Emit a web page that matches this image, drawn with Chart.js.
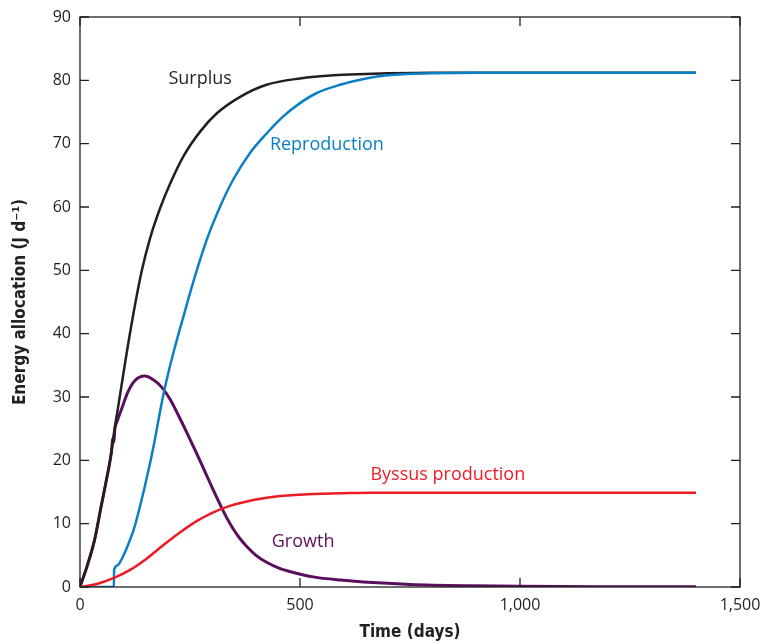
<!DOCTYPE html>
<html lang="en">
<head>
    <meta charset="UTF-8">
    <title>Energy allocation</title>
    <script src="https://cdn.jsdelivr.net/npm/chart.js"></script>
    <style>
        body { margin: 0; background: #fff; }
        #wrap { width: 761px; height: 643px; }
    </style>
</head>
<body>
    <div id="wrap"><canvas id="energyChart"></canvas></div>

    <script>
        // values (time in days, energy in J d-1)
        const surplusDays = [0, 18, 33, 48, 60, 71, 77, 88, 106, 121, 140, 159, 182, 205, 235, 273, 311, 364, 424, 500, 576, 650, 700, 800, 1000, 1200, 1400];
        const surplus = [0, 3.7, 7.4, 12.7, 16.9, 21.1, 24.2, 29.0, 36.9, 43.0, 49.8, 55.0, 59.8, 63.7, 68.0, 71.9, 74.8, 77.4, 79.3, 80.3, 80.8, 81.0, 81.1, 81.2, 81.2, 81.2, 81.2];

        const reproDays = [0, 77, 77.5, 85, 94, 110, 124, 147, 160, 170, 180, 189, 200, 212, 235, 258, 288, 318, 348, 386, 424, 462, 500, 538, 591, 650, 700, 800, 900, 1000, 1200, 1400];
        const reproduction = [0, 0, 2.7, 3.4, 4.3, 6.8, 9.5, 15.8, 19.8, 23.2, 27.0, 30.2, 33.6, 36.9, 42.7, 48.3, 54.8, 60.0, 64.3, 68.5, 71.6, 74.3, 76.4, 78.0, 79.3, 80.3, 80.8, 81.1, 81.2, 81.2, 81.2, 81.2];

        const byssusDays = [0, 38, 76, 114, 152, 189, 227, 265, 303, 341, 379, 417, 455, 530, 591, 666, 800, 1000, 1200, 1400];
        const byssus = [0, 0.47, 1.4, 2.7, 4.5, 6.6, 8.6, 10.4, 11.8, 12.8, 13.5, 14.0, 14.35, 14.7, 14.8, 14.9, 14.9, 14.9, 14.9, 14.9];

        const growthDays = [0, 18, 33, 48, 60, 71, 75, 77, 79, 85, 95, 109, 125, 147, 165, 185, 205, 223, 242, 261, 275, 288, 303, 318, 333, 348, 363, 379, 400, 424, 455, 485, 530, 591, 666, 750, 893, 1000, 1200, 1400];
        const growth = [0, 3.7, 7.4, 12.7, 16.9, 21.1, 23.5, 22.9, 24.8, 26.3, 28.2, 30.8, 32.6, 33.3, 32.8, 31.6, 29.6, 27.2, 24.5, 21.7, 19.6, 17.6, 15.3, 13.1, 11.0, 9.2, 7.7, 6.4, 5.0, 3.9, 2.9, 2.3, 1.6, 1.1, 0.7, 0.4, 0.18, 0.1, 0.05, 0.03];

        const xTicks = [0, 500, 1000, 1500];
        const yTicks = [0, 10, 20, 30, 40, 50, 60, 70, 80, 90];

        const ink = '#231f20';
        const colors = { surplus: '#231f20', repro: '#0a80c4', byssus: '#ed1c24', growth: '#5a0f5c' };

        // curve names written next to the lines, anchored in data units
        const curveLabels = [
            { text: 'Surplus', x: 273, y: 80.2, color: colors.surplus },
            { text: 'Reproduction', x: 561, y: 69.8, color: colors.repro },
            { text: 'Byssus production', x: 836, y: 17.7, color: colors.byssus },
            { text: 'Growth', x: 507, y: 7.1, color: colors.growth }
        ];

        const pts = (xs, ys) => xs.map((x, i) => ({ x: x, y: ys[i] }));

        // closed frame with inward ticks on all four sides, plus curve labels
        const frameTicks = {
            id: 'frameTicks',
            afterDatasetsDraw(chart) {
                const { ctx, chartArea: a, scales: { x, y } } = chart;
                ctx.save();
                ctx.strokeStyle = ink;
                ctx.lineWidth = 1.3;
                ctx.strokeRect(a.left, a.top, a.right - a.left, a.bottom - a.top);
                ctx.beginPath();
                xTicks.forEach(v => {
                    const px = x.getPixelForValue(v);
                    ctx.moveTo(px, a.bottom); ctx.lineTo(px, a.bottom - 9);
                    ctx.moveTo(px, a.top); ctx.lineTo(px, a.top + 9);
                });
                yTicks.forEach(v => {
                    const py = y.getPixelForValue(v);
                    ctx.moveTo(a.left, py); ctx.lineTo(a.left + 9, py);
                    ctx.moveTo(a.right, py); ctx.lineTo(a.right - 9, py);
                });
                ctx.stroke();

                ctx.font = '18px "Open Sans"';
                ctx.textAlign = 'center';
                ctx.textBaseline = 'middle';
                curveLabels.forEach(l => {
                    ctx.fillStyle = l.color;
                    ctx.fillText(l.text, x.getPixelForValue(l.x), y.getPixelForValue(l.y));
                });
                ctx.restore();
            }
        };

        const line = (data, color, width) => ({
            data: data,
            borderColor: color,
            borderWidth: width,
            pointRadius: 0,
            fill: false,
            cubicInterpolationMode: 'monotone'
        });

        const ctx = document.getElementById('energyChart').getContext('2d');
        new Chart(ctx, {
            type: 'line',
            data: {
                datasets: [
                    line(pts(byssusDays, byssus), colors.byssus, 2.5),
                    line(pts(reproDays, reproduction), colors.repro, 2.5),
                    line(pts(surplusDays, surplus), colors.surplus, 2.5),
                    line(pts(growthDays, growth), colors.growth, 3)
                ]
            },
            options: {
                responsive: true,
                maintainAspectRatio: false,
                animation: false,
                layout: { padding: { top: 17, right: 21, left: 0, bottom: 0 } },
                plugins: { legend: { display: false }, tooltip: { enabled: false } },
                scales: {
                    x: {
                        type: 'linear',
                        min: 0,
                        max: 1500,
                        afterBuildTicks: s => { s.ticks = xTicks.map(v => ({ value: v })); },
                        afterFit: s => { s.height = 56; s.paddingLeft = 0; s.paddingRight = 0; },
                        grid: { display: false, drawTicks: false },
                        border: { display: false },
                        ticks: {
                            color: ink,
                            padding: 9,
                            maxRotation: 0,
                            font: { family: 'Open Sans', size: 16 },
                            callback: v => v.toLocaleString('en-US')
                        },
                        title: {
                            display: true,
                            text: 'Time (days)',
                            color: ink,
                            padding: { top: 0, bottom: 0 },
                            font: { family: 'DejaVu Sans Condensed', size: 17, weight: 'bold' }
                        }
                    },
                    y: {
                        min: 0,
                        max: 90,
                        afterBuildTicks: s => { s.ticks = yTicks.map(v => ({ value: v })); },
                        afterFit: s => { s.width = 80; s.paddingTop = 0; s.paddingBottom = 0; },
                        grid: { display: false, drawTicks: false },
                        border: { display: false },
                        ticks: {
                            color: ink,
                            padding: 9,
                            font: { family: 'Open Sans', size: 16 }
                        },
                        title: {
                            display: true,
                            text: 'Energy allocation (J d\u207B\u00B9)',
                            color: ink,
                            padding: { top: 10, bottom: 0 },
                            font: { family: 'DejaVu Sans Condensed', size: 17, weight: 'bold' }
                        }
                    }
                }
            },
            plugins: [frameTicks]
        });
    </script>
</body>
</html>
